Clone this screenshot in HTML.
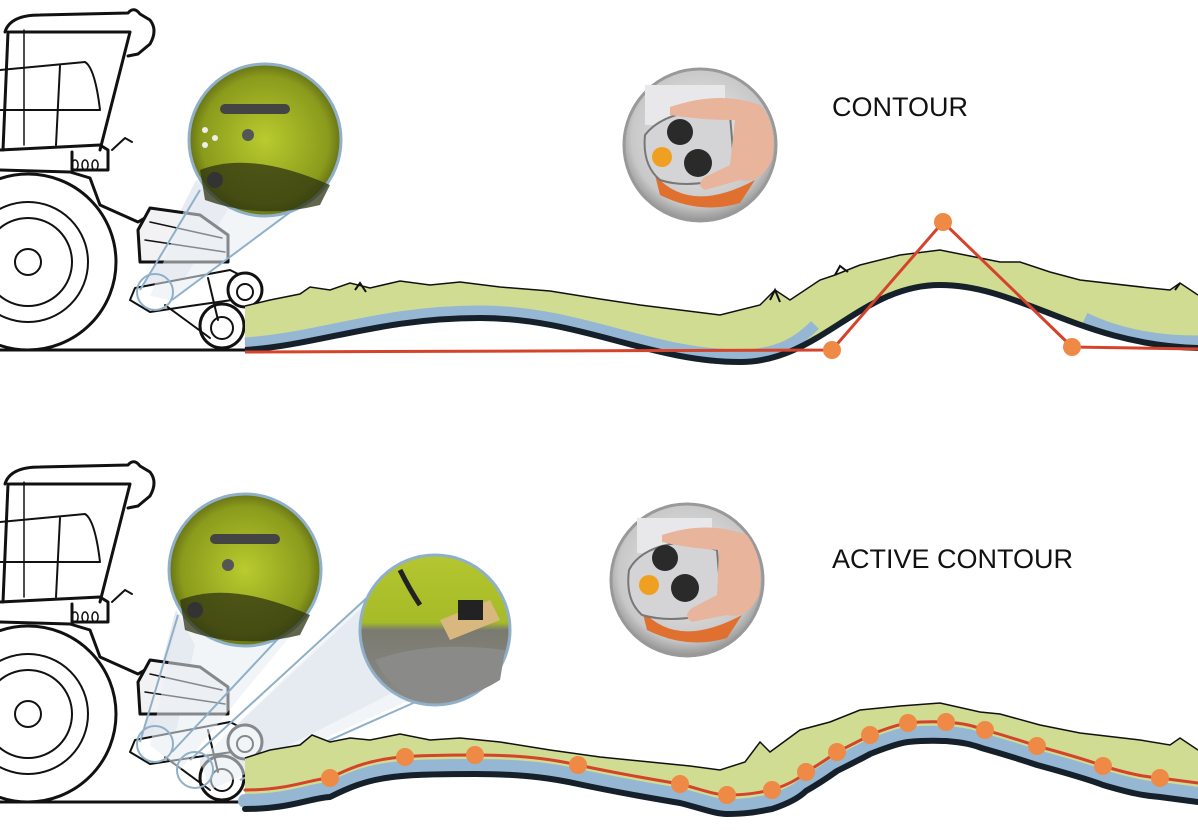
<!DOCTYPE html>
<html><head><meta charset="utf-8"><style>
html,body{margin:0;padding:0;background:#fff;}
svg{display:block}
text{font-family:"Liberation Sans",sans-serif;}
</style></head><body>
<svg width="1198" height="830" viewBox="0 0 1198 830" xmlns="http://www.w3.org/2000/svg">
<defs>
<radialGradient id="gr" cx="0.5" cy="0.5" r="0.6">
<stop offset="0" stop-color="#b9cb2e"/><stop offset="0.7" stop-color="#8a9a1c"/><stop offset="1" stop-color="#3c4410"/>
</radialGradient>
<radialGradient id="gy" cx="0.5" cy="0.45" r="0.6">
<stop offset="0" stop-color="#eeeeee"/><stop offset="0.75" stop-color="#c8c8c8"/><stop offset="1" stop-color="#7a7a7a"/>
</radialGradient>
<linearGradient id="dk" x1="0" y1="0" x2="0" y2="1">
<stop offset="0" stop-color="#b4c630"/><stop offset="0.45" stop-color="#a6bb28"/><stop offset="0.5" stop-color="#7a7a70"/><stop offset="1" stop-color="#8c8c88"/>
</linearGradient>
<g id="tractor" fill="none" stroke="#111" stroke-width="3" stroke-linejoin="round" stroke-linecap="round">
<path d="M5,32 Q10,15 40,15 L128,13 Q134,6 140,14 L150,20 Q158,30 150,44 L138,54 L128,56" fill="#fff"/>
<path d="M10,32 L130,32 L100,150"/>
<path d="M8,32 L3,150" />
<path d="M24,30 L24,145" stroke-width="1.5"/>
<path d="M0,70 L85,62 Q95,68 100,110 L0,110" stroke-width="2"/>
<path d="M60,66 L56,145" stroke-width="2"/>
<path d="M0,150 L100,145 L108,150 L108,170 L72,170 L72,152"/>
<path d="M75,160 a3,5 0 1,0 0.1,0 M85,160 a3,5 0 1,0 0.1,0 M95,160 a3,5 0 1,0 0.1,0" stroke-width="1.5"/>
<path d="M112,150 L125,138 L132,142" stroke-width="2"/>
<path d="M0,170 L70,172 L90,178 L100,205 L138,222 L150,215"/>
<circle cx="28" cy="262" r="88" fill="#fff"/>
<circle cx="28" cy="262" r="60" stroke-width="2"/>
<circle cx="28" cy="262" r="44" stroke-width="2"/>
<circle cx="28" cy="262" r="13" stroke-width="2"/>
<path d="M150,208 L200,215 L228,235 L228,262 L140,262 L138,230 Z" fill="#f2f2f4"/>
<path d="M150,222 L222,238 M145,240 L225,252" stroke-width="1.5"/>
<path d="M130,300 L135,288 L230,270 L250,280 L232,300 L190,306 L150,312 Z" fill="#fff" stroke-width="2"/>
<circle cx="245" cy="290" r="17" fill="#fff"/><circle cx="245" cy="292" r="8" stroke-width="2"/>
<circle cx="222" cy="326" r="22" fill="#fff"/><circle cx="222" cy="328" r="11" stroke-width="2"/>
<path d="M165,305 L210,338 M208,278 L218,320" stroke-width="2"/>
<path d="M0,350 L245,350"/>
</g>
</defs>

<!-- ===== TOP ===== -->
<polygon points="196,180 228,210 172,298 140,292" fill="#e5e9ef" opacity="0.9"/>
<use href="#tractor"/>
<polygon points="196,180 150,296 170,300 330,185" fill="#e8ecf2" opacity="0.55"/>
<line x1="200" y1="190" x2="140" y2="290" stroke="#8fb0c8" stroke-width="2"/>
<line x1="320" y1="190" x2="172" y2="300" stroke="#8fb0c8" stroke-width="2"/>
<circle cx="155" cy="292" r="18" fill="none" stroke="#8fb0c8" stroke-width="2"/>
<circle cx="265" cy="140" r="76" fill="url(#gr)" stroke="#8fb0c8" stroke-width="3"/>
<path d="M200,170 Q250,150 330,185 L320,205 Q260,220 205,200 Z" fill="#2e3310" opacity="0.75"/>
<rect x="220" y="104" width="70" height="10" rx="5" fill="#444"/>
<circle cx="215" cy="180" r="8" fill="#333"/><circle cx="248" cy="135" r="6" fill="#555"/>
<circle cx="205" cy="130" r="3" fill="#eee"/><circle cx="205" cy="145" r="3" fill="#eee"/><circle cx="215" cy="138" r="3" fill="#eee"/>

<!-- ground top -->
<path d="M245,370 L245,306 L270,300 L300,294 L310,287 L330,290 L350,283 L370,288 L400,281 L430,285 L460,282 L500,287 L550,291 L600,299 L640,305 L680,310 L720,315 L760,305 L775,290 L790,300 L820,280 L835,275 L860,265 L900,255 L940,250 L980,258 L1000,262 L1020,262 L1050,272 L1080,280 L1150,288 L1170,290 L1180,283 L1198,295 L1198,370 Z" fill="#cfdc91"/>
<path d="M245,350 C320,345 380,318 480,318 C580,318 650,362 740,362 C820,362 860,285 940,285 C1020,285 1080,345 1198,348 L1198,400 L245,400 Z" fill="#fff"/>
<path d="M780,302 L775,290 L770,300 M355,290 L360,283 L366,292 M1175,290 L1180,283 M835,275 L840,266 L848,272" stroke="#111" stroke-width="2" fill="none"/>
<path d="M245,306 L270,300 L300,294 L310,287 L330,290 L350,283 L370,288 L400,281 L430,285 L460,282 L500,287 L550,291 L600,299 L640,305 L680,310 L720,315 L760,305 L775,290 L790,300 L820,280 L835,275 L860,265 L900,255 L940,250 L980,258 L1000,262 L1020,262 L1050,272 L1080,280 L1150,288 L1170,290 L1180,283 L1198,295" stroke="#111" stroke-width="1.5" fill="none"/>
<path d="M245,343 C320,338 380,311 480,311 C580,311 650,355 740,355 C780,355 800,340 815,325" stroke="#95b7d3" stroke-width="11" fill="none"/>
<path d="M1085,318 C1120,335 1160,341 1198,341" stroke="#95b7d3" stroke-width="11" fill="none"/>
<path d="M245,350 C320,345 380,318 480,318 C580,318 650,362 740,362 C820,362 860,285 940,285 C1020,285 1080,345 1198,348" stroke="#15202a" stroke-width="6" fill="none"/>
<polyline points="245,352 832,350 943,222 1072,347 1198,349" fill="none" stroke="#d4432a" stroke-width="3"/>
<circle cx="832" cy="350" r="9" fill="#ee8a45"/><circle cx="943" cy="222" r="9" fill="#ee8a45"/><circle cx="1072" cy="347" r="9" fill="#ee8a45"/>

<g transform="translate(700,145)">
<circle r="76" fill="url(#gy)" stroke="#999" stroke-width="3"/>
<rect x="-55" y="-60" width="80" height="40" fill="#e8e8ea"/>
<path d="M-45,30 Q-10,70 55,35 L40,58 Q0,70 -40,50 Z" fill="#e07030"/>
<path d="M-55,-10 Q-40,-30 0,-35 L30,-30 L35,30 Q-10,45 -40,35 Q-58,20 -55,-10 Z" fill="#d4d4d6" stroke="#777" stroke-width="2"/>
<circle cx="-20" cy="-13" r="13" fill="#2a2a2a"/>
<circle cx="-2" cy="18" r="14" fill="#2a2a2a"/>
<circle cx="-38" cy="12" r="10" fill="#f0a020"/>
<path d="M-30,-38 Q20,-55 60,-40 Q78,-20 72,15 Q60,40 40,35 L5,45 Q-5,40 5,32 L30,20 L35,-25 Q0,-25 -30,-30 Z" fill="#e8b49c"/>
</g>
<text x="832" y="116" font-size="27" fill="#111">CONTOUR</text>

<!-- ===== BOTTOM ===== -->
<polygon points="176,610 195,645 172,750 140,745" fill="#e5e9ef"/>
<polygon points="370,600 398,690 200,790 200,760" fill="#e5e9ef"/>
<use href="#tractor" transform="translate(0,452)"/>
<polygon points="180,610 150,745 180,770 320,600" fill="#e8ecf2" opacity="0.55"/>
<polygon points="375,590 200,760 210,790 410,700" fill="#e8ecf2" opacity="0.55"/>
<line x1="178" y1="615" x2="140" y2="742" stroke="#8fb0c8" stroke-width="2"/>
<line x1="305" y1="610" x2="172" y2="752" stroke="#8fb0c8" stroke-width="2"/>
<line x1="370" y1="595" x2="190" y2="760" stroke="#8fb0c8" stroke-width="2"/>
<line x1="420" y1="700" x2="240" y2="780" stroke="#8fb0c8" stroke-width="2"/>
<circle cx="155" cy="744" r="18" fill="none" stroke="#8fb0c8" stroke-width="2"/>
<circle cx="195" cy="770" r="18" fill="none" stroke="#8fb0c8" stroke-width="2"/>
<circle cx="245" cy="570" r="76" fill="url(#gr)" stroke="#8fb0c8" stroke-width="3"/>
<path d="M180,600 Q230,580 310,615 L300,635 Q240,650 185,630 Z" fill="#2e3310" opacity="0.75"/>
<rect x="210" y="534" width="70" height="10" rx="5" fill="#444"/>
<circle cx="195" cy="610" r="8" fill="#333"/><circle cx="228" cy="565" r="6" fill="#555"/>
<circle cx="435" cy="630" r="75" fill="url(#dk)" stroke="#8fb0c8" stroke-width="3"/>
<path d="M375,660 Q430,640 505,650 L500,680 Q460,705 420,700 Q390,690 375,660 Z" fill="#8a8a88"/>
<path d="M440,620 L490,600 L500,620 L450,640 Z" fill="#d9b880"/>
<rect x="458" y="600" width="25" height="20" fill="#222"/>
<path d="M400,570 Q410,590 420,605" stroke="#222" stroke-width="5" fill="none"/>

<!-- ground bottom -->
<path d="M245,820 L245,758 L270,750 L300,745 L312,735 L330,742 L350,738 L370,740 L400,734 L430,740 L460,738 L500,742 L550,750 L600,757 L650,762 L690,766 L720,770 L745,762 L760,742 L770,752 L800,730 L830,722 L860,710 L900,706 L940,703 L980,712 L1000,714 L1040,725 L1080,733 L1140,740 L1170,745 L1180,738 L1198,750 L1198,820 Z" fill="#cfdc91"/>
<path d="M245,809 C290,809 310,798 330,797 C370,777 390,774 475,774 C530,774 560,780 578,784 C620,793 650,798 680,803 C700,808 715,814 727,814 C750,814 760,811 772,809 C790,803 800,797 806,791 C820,783 830,776 837,771 C855,762 865,757 870,754 C890,746 900,743 908,742 C930,740 935,741 946,741 C970,743 975,746 985,749 C1010,756 1025,761 1037,765 C1070,774 1090,780 1103,785 C1130,793 1145,796 1160,797 C1175,799 1190,801 1198,802 L1198,830 L245,830 Z" fill="#fff"/>
<path d="M245,758 L270,750 L300,745 L312,735 L330,742 L350,738 L370,740 L400,734 L430,740 L460,738 L500,742 L550,750 L600,757 L650,762 L690,766 L720,770 L745,762 L760,742 L770,752 L800,730 L830,722 L860,710 L900,706 L940,703 L980,712 L1000,714 L1040,725 L1080,733 L1140,740 L1170,745 L1180,738 L1198,750" stroke="#111" stroke-width="1.5" fill="none"/>
<g fill="none" stroke-linejoin="round" stroke-linecap="round">
<path d="M245,801 C290,801 310,790 330,789 C370,769 390,766 475,766 C530,766 560,772 578,776 C620,785 650,790 680,795 C700,800 715,806 727,806 C750,806 760,803 772,801 C790,795 800,789 806,783 C820,775 830,768 837,763 C855,754 865,749 870,746 C890,738 900,735 908,734 C930,732 935,733 946,733 C970,735 975,738 985,741 C1010,748 1025,753 1037,757 C1070,766 1090,772 1103,777 C1130,785 1145,788 1160,789 C1175,791 1190,793 1198,794" stroke="#95b7d3" stroke-width="14"/>
<path d="M245,809 C290,809 310,798 330,797 C370,777 390,774 475,774 C530,774 560,780 578,784 C620,793 650,798 680,803 C700,808 715,814 727,814 C750,814 760,811 772,809 C790,803 800,797 806,791 C820,783 830,776 837,771 C855,762 865,757 870,754 C890,746 900,743 908,742 C930,740 935,741 946,741 C970,743 975,746 985,749 C1010,756 1025,761 1037,765 C1070,774 1090,780 1103,785 C1130,793 1145,796 1160,797 C1175,799 1190,801 1198,802" stroke="#15202a" stroke-width="6"/>
<path d="M245,790 C290,790 310,779 330,778 C370,758 390,755 475,755 C530,755 560,761 578,765 C620,774 650,779 680,784 C700,789 715,795 727,795 C750,795 760,792 772,790 C790,784 800,778 806,772 C820,764 830,757 837,752 C855,743 865,738 870,735 C890,727 900,724 908,723 C930,721 935,722 946,722 C970,724 975,727 985,730 C1010,737 1025,742 1037,746 C1070,755 1090,761 1103,766 C1130,774 1145,777 1160,778 C1175,780 1190,782 1198,783" stroke="#d4432a" stroke-width="3"/>
</g>
<g fill="#ee8a45">
<circle cx="330" cy="778" r="9"/><circle cx="405" cy="757" r="9"/><circle cx="475" cy="755" r="9"/><circle cx="578" cy="765" r="9"/><circle cx="680" cy="784" r="9"/><circle cx="727" cy="795" r="9"/><circle cx="772" cy="790" r="9"/><circle cx="806" cy="772" r="9"/><circle cx="837" cy="752" r="9"/><circle cx="870" cy="735" r="9"/><circle cx="908" cy="723" r="9"/><circle cx="946" cy="722" r="9"/><circle cx="985" cy="730" r="9"/><circle cx="1037" cy="746" r="9"/><circle cx="1103" cy="766" r="9"/><circle cx="1160" cy="778" r="9"/>
</g>

<g transform="translate(687,580)">
<circle r="76" fill="url(#gy)" stroke="#999" stroke-width="3"/>
<rect x="-50" y="-62" width="75" height="35" fill="#e8e8ea"/>
<path d="M-45,30 Q-10,70 55,35 L40,58 Q0,70 -40,50 Z" fill="#e07030"/>
<path d="M-58,-10 Q-45,-35 0,-38 L30,-30 L35,30 Q-10,45 -45,35 Q-62,20 -58,-10 Z" fill="#d4d4d6" stroke="#777" stroke-width="2"/>
<circle cx="-22" cy="-22" r="13" fill="#2a2a2a"/>
<circle cx="-2" cy="8" r="14" fill="#2a2a2a"/>
<circle cx="-38" cy="5" r="10" fill="#f0a020"/>
<path d="M-25,-45 Q20,-60 60,-45 Q78,-20 72,15 Q60,40 40,35 L5,42 Q-5,36 5,28 L30,15 L32,-30 Q0,-32 -25,-38 Z" fill="#e8b49c"/>
</g>
<text x="832" y="568" font-size="27" fill="#111">ACTIVE CONTOUR</text>
</svg>
</body></html>
